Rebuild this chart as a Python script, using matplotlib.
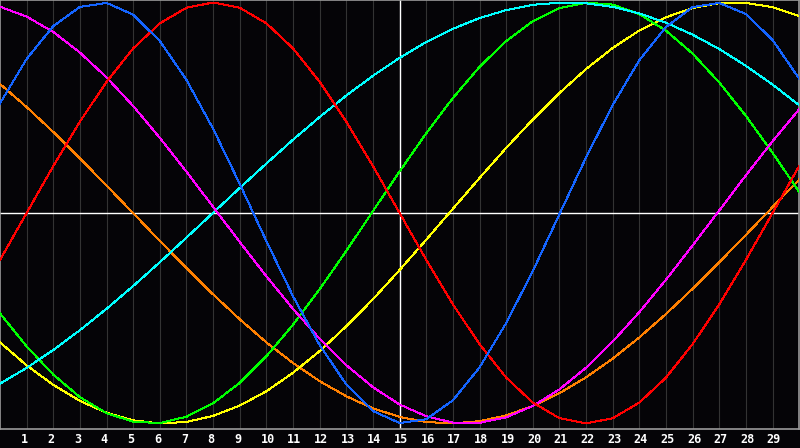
"""Seven phase-shifted waves on a dark scope-style grid."""

import matplotlib

matplotlib.use("Agg")
import matplotlib.pyplot as plt
import matplotlib.transforms as mtransforms

# sample positions (one per grid division)
X = list(range(0, 31))
TICKS = list(range(1, 30))

BLUE = [0.521, 0.732, 0.888, 0.979, 0.998, 0.942, 0.817, 0.632, 0.400, 0.138,
        -0.134, -0.396, -0.628, -0.815, -0.941, -0.998, -0.980, -0.890, -0.734,
        -0.523, -0.276, -0.006, 0.264, 0.513, 0.726, 0.884, 0.978, 0.998, 0.945,
        0.822, 0.638]
RED = [-0.223, 0.000, 0.223, 0.434, 0.623, 0.782, 0.901, 0.975, 1.000, 0.975,
       0.901, 0.782, 0.623, 0.434, 0.223, 0.000, -0.223, -0.434, -0.623, -0.782,
       -0.901, -0.975, -1.000, -0.975, -0.901, -0.782, -0.623, -0.434, -0.223,
       0.000, 0.223]
MAGENTA = [0.980, 0.933, 0.860, 0.762, 0.644, 0.508, 0.357, 0.196, 0.029, -0.138,
           -0.301, -0.456, -0.598, -0.723, -0.828, -0.910, -0.966, -0.996, -0.997,
           -0.971, -0.917, -0.838, -0.735, -0.611, -0.471, -0.317, -0.154, 0.012,
           0.179, 0.341, 0.493]
CYAN = [-0.811, -0.736, -0.651, -0.557, -0.455, -0.347, -0.234, -0.117, 0.001,
        0.119, 0.235, 0.348, 0.456, 0.558, 0.652, 0.737, 0.812, 0.875, 0.926,
        0.964, 0.989, 0.999, 0.996, 0.979, 0.948, 0.904, 0.847, 0.779, 0.699,
        0.610, 0.512]
GREEN = [-0.477, -0.634, -0.768, -0.875, -0.951, -0.992, -0.998, -0.968, -0.904,
         -0.807, -0.681, -0.531, -0.362, -0.180, 0.009, 0.197, 0.379, 0.546,
         0.694, 0.817, 0.911, 0.973, 0.999, 0.990, 0.945, 0.866, 0.757, 0.620,
         0.461, 0.286, 0.100]
YELLOW = [-0.615, -0.724, -0.817, -0.893, -0.949, -0.985, -1.000, -0.993, -0.964,
          -0.915, -0.847, -0.759, -0.656, -0.538, -0.410, -0.271, -0.127, 0.020,
          0.166, 0.309, 0.444, 0.570, 0.684, 0.784, 0.867, 0.930, 0.974, 0.997,
          0.998, 0.978, 0.936]
ORANGE = [0.613, 0.503, 0.385, 0.260, 0.130, -0.001, -0.133, -0.262, -0.387,
          -0.505, -0.615, -0.713, -0.799, -0.871, -0.928, -0.969, -0.993, -1.000,
          -0.989, -0.962, -0.917, -0.856, -0.781, -0.692, -0.591, -0.480, -0.360,
          -0.234, -0.104, 0.028, 0.159]

SERIES = [
    (ORANGE, "#ff8000"),
    (YELLOW, "#ffff00"),
    (GREEN, "#00ff00"),
    (CYAN, "#00ffff"),
    (MAGENTA, "#ff00ff"),
    (RED, "#ff0000"),
    (BLUE, "#1464ff"),
]
BG = "#050407"


def main() -> None:
    fig = plt.figure(figsize=(8, 4.48), dpi=100, facecolor=BG)
    ax = fig.add_axes([0, 19.5 / 448, 0.999, 428 / 448])
    ax.set_facecolor(BG)

    for x in TICKS:
        ax.axvline(x, color="#333333", lw=0.8, zorder=1)
    ax.axvline(15, color="#ffffff", lw=1.0, zorder=2)
    ax.axhline(0, color="#ffffff", lw=1.0, zorder=2)

    for values, color in SERIES:
        ax.plot(X, values, color=color, lw=0.72, zorder=3, antialiased=False)

    ax.set_xlim(0, 30)
    ax.set_ylim(-1.024, 1.0095)
    ax.set_yticks([])
    ax.set_xticks(TICKS, [str(t) for t in TICKS])
    ax.tick_params(axis="x", length=0, pad=3.5, colors="#ffffff")
    offset = mtransforms.ScaledTranslation(-0.057, 0, fig.dpi_scale_trans)
    for label in ax.get_xticklabels():
        label.set_fontfamily("DejaVu Sans Mono")
        label.set_fontweight("bold")
        label.set_fontsize(8.5)
        label.set_horizontalalignment("left")
        label.set_transform(label.get_transform() + offset)
    for spine in ax.spines.values():
        spine.set_color("#9a9a9a")
        spine.set_linewidth(1.2)

    fig.savefig("out.png", dpi=100, facecolor=BG)
    plt.close(fig)


if __name__ == "__main__":
    main()
